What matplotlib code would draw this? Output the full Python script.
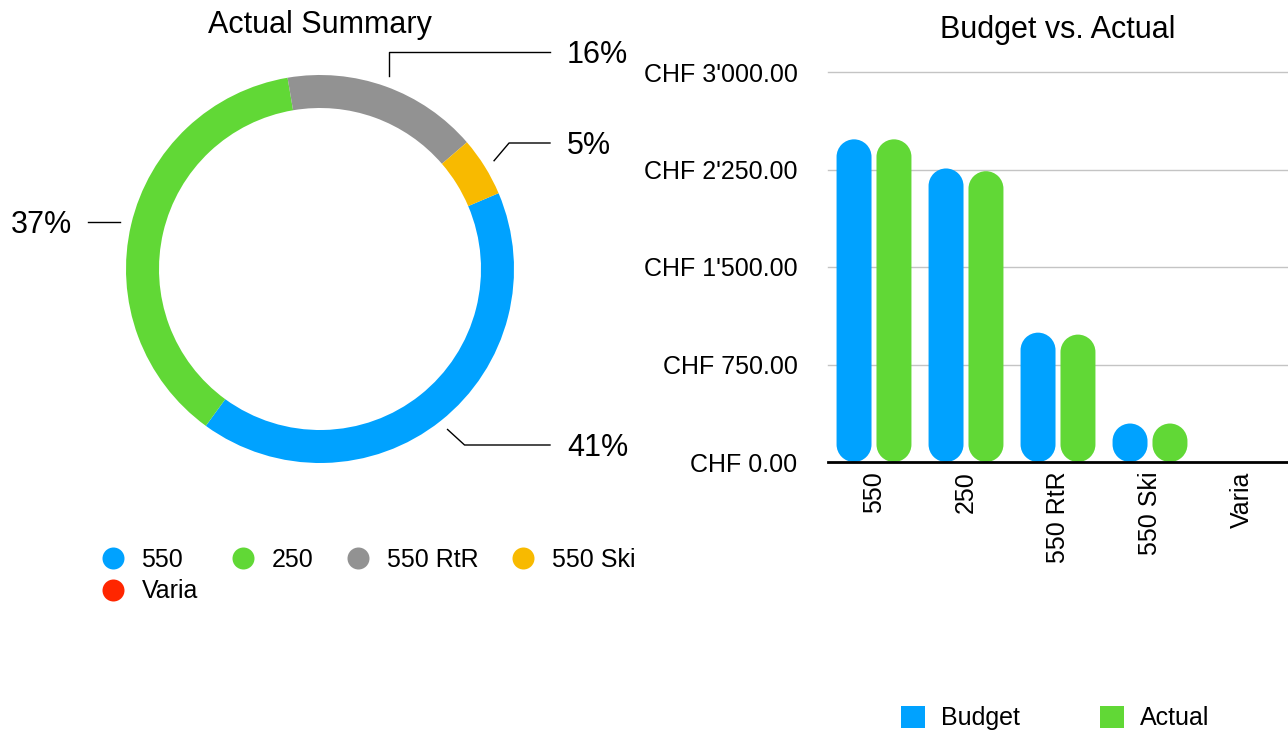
import numpy as np
import matplotlib
matplotlib.use('Agg')
import matplotlib.pyplot as plt
from matplotlib.patches import PathPatch, Patch
from matplotlib.path import Path
from matplotlib.lines import Line2D

plt.rcParams['font.family'] = ['Liberation Sans', 'DejaVu Sans']

# Data
categories = ['550', '250', '550 RtR', '550 Ski', 'Varia']
budget = [2482, 2258, 995, 296, 0]
actual = [2482, 2237, 980, 296, 0]
colors = ['#00A2FF', '#61D836', '#929292', '#F8BA00', '#FF2600']
yticks = [0, 750, 1500, 2250, 3000]

W, H = 1288, 731
fig = plt.figure(figsize=(W / 100, H / 100), dpi=100)


def px_axes(left, top, width, height):
    # axes placed in pixel units measured from the top left corner
    return fig.add_axes([left / W, 1 - (top + height) / H, width / W, height / H])


def stadium(x0, w, h, ry):
    # bar with fully rounded ends, ry is the cap radius in y data units
    xc, rx = x0 + w / 2, w / 2
    ry = min(ry, h / 2)
    bot = Path.arc(180, 360)
    top = Path.arc(0, 180)
    vb = bot.vertices * [rx, ry] + [xc, ry]
    vt = top.vertices * [rx, ry] + [xc, h - ry]
    codes = list(bot.codes) + [Path.LINETO] + list(top.codes[1:]) + [Path.CLOSEPOLY]
    verts = np.vstack([vb, vt, vb[:1]])
    return Path(verts, codes)


# ---------- donut: Actual Summary ----------
cx, cy, half = 320, 269, 220
ax1 = px_axes(cx - half, cy - half, 2 * half, 2 * half)
R, ring = 194, 33
wedges, _ = ax1.pie(actual, colors=colors, radius=R, startangle=23,
                    counterclock=False,
                    wedgeprops=dict(width=ring, linewidth=0))
ax1.set_xlim(-half, half)
ax1.set_ylim(-half, half)
ax1.axis('off')

# label y (pixels from top) and elbow shift for the leader lines
label_layout = {'550': (445, 17), '250': (222, 0),
                '550 RtR': (52, 0), '550 Ski': (143, 15)}
total = sum(actual)
for w, cat, v in zip(wedges, categories, actual):
    if v == 0:
        continue
    mid = np.deg2rad((w.theta1 + w.theta2) / 2)
    sx, sy = (R + 11) * np.cos(mid), (R + 11) * np.sin(mid)
    ly, dx = label_layout[cat]
    ly = cy - ly
    pct = f'{v / total * 100:.0f}%'
    if sx > 0:
        ax1.plot([sx, sx + dx, 230], [sy, ly, ly], color='black', lw=1,
                 clip_on=False)
        ax1.text(247, ly - 11, pct, ha='left', va='baseline', fontsize=22,
                 clip_on=False)
    else:
        ax1.plot([sx, -232], [ly, ly], color='black', lw=1, clip_on=False)
        ax1.text(-248, ly - 11, pct, ha='right', va='baseline', fontsize=22,
                 clip_on=False)

fig.text(320 / W, 1 - 33 / H, 'Actual Summary', ha='center', va='baseline',
         fontsize=22)

# legend under the donut (reordered so matplotlib's column filling matches)
order = [0, 4, 1, 2, 3]
handles = [Line2D([0], [0], marker='o', ls='none', markersize=22 * 0.72,
                  markerfacecolor=colors[i], markeredgecolor='none') for i in order]
fig.legend(handles, [categories[i] for i in order], ncol=4, loc='upper left',
           bbox_to_anchor=(102 / W, 1 - 548 / H), frameon=False, fontsize=18,
           handlelength=0.88, handletextpad=0.7, columnspacing=1.36,
           borderpad=0, borderaxespad=0, labelspacing=0.3)

# ---------- bars: Budget vs. Actual ----------
ax2 = px_axes(828, 72, 460, 390)
x = np.arange(len(categories))
bw, off = 0.38, 0.217
b1 = ax2.bar(x - off, budget, bw, color=colors[0])
b2 = ax2.bar(x + off, actual, bw, color=colors[1])
ax2.set_xlim(-0.5, len(categories) - 0.5)
ax2.set_ylim(0, 3000)

# turn the plain bars into rounded ones
aspect = (460 / len(categories)) / (390 / 3000)
for bars in (b1, b2):
    for rect in bars:
        rect.set_visible(False)
        h = rect.get_height()
        if h <= 0:
            continue
        x0, w = rect.get_x(), rect.get_width()
        ax2.add_patch(PathPatch(stadium(x0, w, h, w / 2 * aspect),
                                fc=rect.get_facecolor(), ec='none'))

ax2.set_yticks(yticks)
ax2.set_yticklabels([f"CHF {v:,.2f}".replace(',', "'") for v in yticks])
ax2.tick_params(axis='y', length=0, pad=22, labelsize=18)
ax2.set_xticks(x)
ax2.set_xticklabels(categories, rotation=90)
ax2.tick_params(axis='x', length=0, pad=7, labelsize=18)

ax2.yaxis.grid(True, color='#c4c4c4', lw=1)
for gl in ax2.get_ygridlines():
    gl.set_clip_on(False)
ax2.set_axisbelow(True)
for s in ['top', 'left', 'right']:
    ax2.spines[s].set_visible(False)
ax2.spines['bottom'].set_linewidth(2)
ax2.spines['bottom'].set_zorder(5)

fig.text(1058 / W, 1 - 38 / H, 'Budget vs. Actual', ha='center',
         va='baseline', fontsize=22)

fig.legend([Patch(fc=colors[0]), Patch(fc=colors[1])], ['Budget', 'Actual'],
           ncol=2, loc='center left', bbox_to_anchor=(901 / W, 1 - 718 / H),
           frameon=False, fontsize=18, handlelength=0.96, handleheight=0.96,
           handletextpad=0.64, columnspacing=3.2, borderpad=0, borderaxespad=0)

plt.savefig('out.png', dpi=100)
